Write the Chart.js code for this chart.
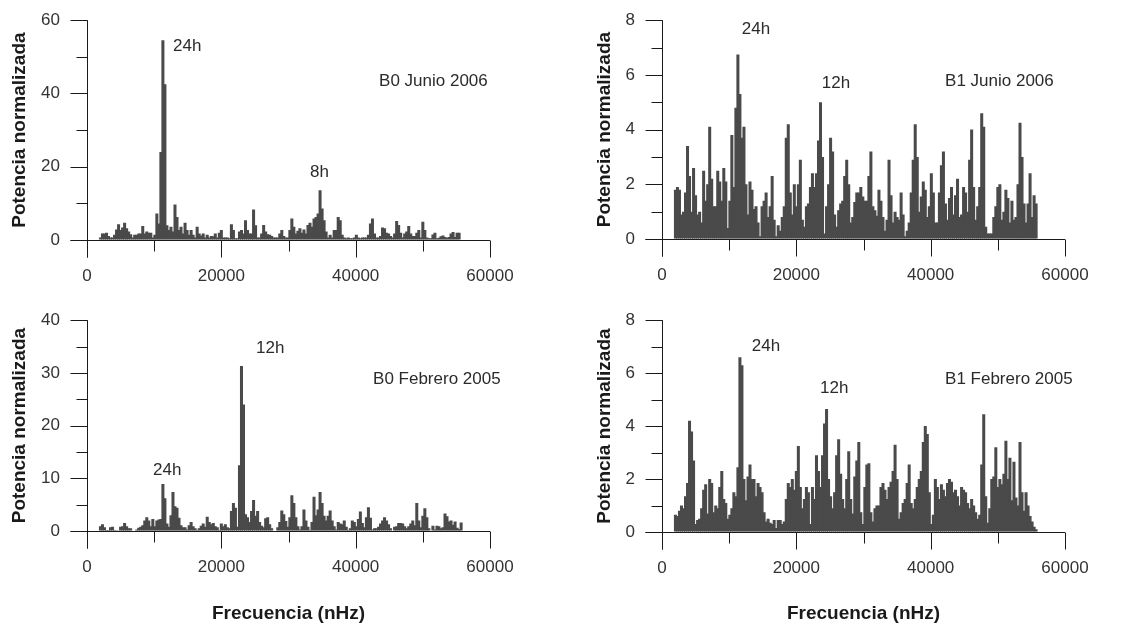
<!DOCTYPE html>
<html>
<head>
<meta charset="utf-8">
<script src="https://cdn.jsdelivr.net/npm/chart.js@4"></script>
<style>
  body { margin: 0; background: #fff; }
  #figura { position: relative; width: 1141px; height: 626px; }
  #figura canvas { position: absolute; }
</style>
</head>
<body>
<div id="figura">
  <canvas id="b0jun" width="570" height="300" style="left:0;top:0"></canvas>
  <canvas id="b1jun" width="571" height="300" style="left:570px;top:0"></canvas>
  <canvas id="b0feb" width="570" height="326" style="left:0;top:300px"></canvas>
  <canvas id="b1feb" width="571" height="326" style="left:570px;top:300px"></canvas>
</div>
<script>
// espectros de potencia, un valor cada 300 nHz desde 2000 nHz
const freqInicio = 2000, freqPaso = 300;

const potB0Jun2006 = [
  0.7, 1.8, 1.8, 2.0, 1.1, 0.7, 0.7, 1.4, 2.9, 4.3,
  2.7, 3.4, 4.7, 3.2, 2.3, 1.6, 0.7, 1.4, 1.4, 1.8,
  1.8, 3.8, 1.8, 2.3, 2.0, 2.0, 0.7, 1.4, 7.2, 4.5,
  24, 54.5, 42.5, 4.0, 2.7, 3.6, 2.3, 9.7, 6.3, 2.7,
  3.6, 1.8, 4.7, 2.7, 1.4, 2.7, 1.4, 0.7, 3.6, 1.8,
  1.2, 1.8, 0.7, 1.4, 0.7, 1.1, 1.0, 1.8, 0.7, 2.0,
  2.7, 0.7, 0.7, 0.7, 0.5, 4.3, 2.7, 0.5, 0.5, 2.3,
  2.7, 1.8, 5.4, 2.7, 1.8, 1.8, 8.3, 4.0, 0.7, 0.7,
  1.8, 4.1, 2.3, 1.6, 1.4, 1.1, 0.7, 0.7, 0.7, 1.8,
  2.7, 1.1, 0.7, 0.7, 2.7, 5.9, 3.6, 1.8, 2.5, 3.2,
  2.0, 2.9, 1.8, 4.1, 4.7, 3.6, 5.9, 6.3, 7.2, 13.6,
  8.6, 5.4, 2.3, 0.7, 1.4, 0.7, 2.7, 2.7, 6.3, 5.4,
  1.4, 0.7, 0.5, 0.7, 0.5, 0.5, 0.7, 1.4, 0.7, 0.5,
  0.7, 0.7, 0.7, 1.4, 4.5, 5.9, 1.8, 0.7, 0.7, 1.1,
  3.4, 3.2, 2.0, 1.8, 1.1, 0.7, 1.8, 5.2, 4.1, 2.0,
  0.7, 1.8, 2.3, 3.8, 1.8, 1.1, 1.1, 2.0, 2.7, 0.7,
  5.0, 2.7, 0.7, 0.5, 0.5, 1.5, 2.0, 0.5, 0.6, 1.0,
  1.2, 0.8, 0.6, 0.8, 1.8, 2.2, 0.8, 2.0, 2.0, 0
];

const potB1Jun2006 = [
  1.8, 1.9, 1.8, 0.9, 1.0, 1.7, 3.4, 2.3, 1.0, 2.6,
  1.6, 0.9, 1.0, 0.6, 2.5, 1.4, 2.0, 4.1, 2.2, 1.2,
  1.2, 2.5, 2.1, 1.4, 2.6, 2.1, 0.4, 1.4, 3.8, 1.9,
  4.8, 6.75, 5.3, 3.7, 4.1, 2.0, 0.9, 2.1, 1.8, 1.1,
  1.2, 0.6, 0.1, 1.2, 1.4, 1.7, 0.8, 1.2, 2.3, 0.7,
  0.1, 0.5, 0.3, 0.8, 1.2, 3.7, 4.2, 1.7, 0.9, 2.0,
  1.2, 2.0, 2.9, 0.7, 0.45, 1.2, 1.3, 1.9, 2.4, 1.9,
  2.4, 3.6, 5.0, 3.0, 0.2, 1.2, 2.0, 3.7, 3.2, 0.9,
  0.45, 1.05, 1.3, 1.4, 2.3, 2.9, 2.0, 0.6, 0.8, 1.35,
  1.7, 1.7, 1.9, 1.55, 1.4, 1.4, 2.3, 3.2, 1.2, 1.05,
  0.85, 1.8, 1.4, 0.8, 0.3, 0.7, 2.9, 1.6, 0.6, 1.0,
  0.8, 0.7, 1.7, 0.9, 0.1, 0.3, 0.6, 1.7, 2.9, 4.2,
  3.0, 1.0, 1.55, 2.1, 1.8, 0.8, 1.2, 2.4, 1.7, 0.6,
  0.6, 1.7, 2.7, 3.2, 1.3, 0.7, 1.5, 1.9, 0.9, 1.6,
  2.2, 0.8, 0.9, 1.9, 1.7, 1.0, 2.9, 4.0, 1.9, 0.7,
  1.2, 1.9, 4.6, 4.1, 0.45, 0.2, 0.2, 0.2, 0.8, 1.2,
  1.9, 2.0, 0.7, 1.0, 1.8, 1.5, 0.6, 1.4, 0.7, 0.8,
  2.0, 4.25, 3.0, 1.3, 0.6, 1.3, 2.4, 0.8, 1.6, 1.3
];

const potB0Feb2005 = [
  0.9, 1.3, 0.7, 0.2, 0.2, 0.7, 0.8, 0.2, 0.05, 0.05,
  0.8, 0.9, 1.5, 0.9, 0.5, 0.5, 0, 0, 0.3, 0.6,
  0.8, 1.1, 2.0, 2.6, 2.0, 0.9, 2.3, 0.9, 2.0, 2.2,
  2.3, 8.9, 6.2, 1.4, 0.8, 3.0, 7.4, 4.7, 4.4, 2.5,
  1.1, 0.7, 0.7, 0.3, 1.1, 1.7, 0.9, 0.5, 0.2, 0.5,
  1.0, 1.4, 0.8, 2.7, 1.7, 1.3, 1.5, 0.9, 0.7, 0.2,
  1.4, 0.9, 1.3, 0.7, 0.5, 3.8, 5.3, 4.4, 0.8, 12.5,
  31.3, 24, 3.2, 2.6, 1.7, 3.8, 5.9, 2.9, 3.8, 1.7,
  1.0, 0.7, 2.4, 2.6, 1.3, 0.5, 0, 0.1, 0.7, 1.7,
  3.9, 3.2, 1.9, 0.8, 2.6, 6.8, 5.3, 2.6, 0.9, 0.3,
  0.9, 4.1, 2.0, 0.8, 0.2, 1.7, 6.5, 3.0, 4.1, 7.4,
  5.3, 2.9, 2.0, 2.9, 3.9, 2.0, 0.9, 0.3, 1.7, 1.4,
  1.3, 2.0, 0.8, 0.2, 0.5, 2.0, 1.7, 0.9, 2.3, 3.7,
  1.5, 0.7, 2.6, 4.5, 2.5, 0.3, 0.5, 0.5, 0.8, 1.4,
  2.0, 2.6, 2.0, 1.3, 0.5, 0, 0.8, 0.9, 1.5, 1.5,
  1.4, 0.9, 0.5, 0.9, 1.4, 2.0, 1.1, 5.3, 2.0, 0.7,
  2.9, 4.3, 2.6, 0.5, 0, 1.0, 0.3, 1.0, 0.9, 0.5,
  0.7, 3.3, 2.8, 1.8, 2.0, 1.2, 1.8, 0.6, 0.4, 1.6
];

const potB1Feb2005 = [
  0.65, 0.6, 0.8, 1.0, 0.9, 1.35, 1.85, 4.2, 3.8, 2.7,
  0.3, 0.45, 0.5, 0.9, 1.6, 1.8, 0.7, 2.0, 1.85, 0.75,
  1.0, 0.9, 1.7, 2.3, 1.25, 1.1, 0.5, 0.65, 0.9, 1.5,
  1.35, 2.45, 6.6, 6.3, 2.0, 1.2, 2.1, 2.55, 2.0, 2.0,
  1.35, 1.85, 1.7, 1.5, 0.75, 0.4, 0.5, 0.35, 0.3, 0.45,
  0.15, 0.45, 0.45, 0.3, 0.4, 1.25, 1.85, 1.7, 2.0, 1.6,
  2.3, 3.25, 1.7, 0.9, 1.25, 1.7, 1.5, 0.3, 1.7, 1.25,
  2.9, 2.3, 1.7, 2.9, 4.1, 4.65, 2.0, 1.35, 0.9, 1.5,
  2.9, 3.5, 2.2, 1.25, 0.9, 2.0, 3.05, 1.25, 0.7, 2.1,
  2.7, 3.4, 0.75, 0.3, 1.7, 2.55, 2.6, 0.75, 0.4, 0.9,
  1.0, 1.0, 1.7, 1.85, 1.6, 1.25, 1.7, 1.9, 2.3, 3.3,
  2.0, 0.5, 0.75, 1.1, 1.25, 1.85, 2.55, 1.1, 0.9, 1.25,
  1.7, 2.0, 2.3, 3.4, 4.0, 3.7, 1.5, 0.3, 0.65, 2.0,
  1.7, 1.25, 1.8, 1.6, 1.35, 1.85, 2.0, 1.9, 1.5, 1.6,
  1.35, 1.0, 1.7, 1.6, 1.5, 1.1, 0.9, 1.25, 1.0, 0.75,
  0.5, 0.65, 2.55, 4.45, 1.35, 0.35, 0.9, 2.0, 2.1, 3.2,
  1.7, 2.0, 1.8, 2.2, 3.45, 2.0, 2.8, 1.2, 2.65, 1.3,
  1.0, 3.4, 1.5, 0.8, 1.5, 1.0, 0.6, 0.4, 0.2, 0.1
];

const frecuencias = potB0Jun2006.map((_, i) => freqInicio + i * freqPaso);

// marcas con etiqueta
const ticksX = [0, 20000, 40000, 60000];
const ticksB0Jun = [0, 20, 40, 60];
const ticksB0Feb = [0, 10, 20, 30, 40];
const ticksB1 = [0, 2, 4, 6, 8];

const FUENTE = "'Liberation Sans', Arial, sans-serif";
const TICK = 17, TICK_MENOR = 11;

// ejes cruzados con marcas hacia fuera, menores más cortas
const ejes = {
  id: 'ejes',
  afterDraw(chart) {
    const {ctx, scales: {x, y}} = chart;
    const x0 = Math.round(x.getPixelForValue(0)) + 0.5;
    const y0 = Math.round(y.getPixelForValue(0)) + 0.5;
    ctx.save();
    ctx.strokeStyle = '#1a1a1a';
    ctx.lineWidth = 1;
    ctx.beginPath();
    ctx.moveTo(x0 - TICK, y0);
    ctx.lineTo(x.right, y0);
    ctx.moveTo(x0, y.top);
    ctx.lineTo(x0, y0 + TICK);
    x.ticks.forEach(t => {
      const px = Math.round(x.getPixelForValue(t.value)) + 0.5;
      ctx.moveTo(px, y0);
      ctx.lineTo(px, y0 + (t.label ? TICK : TICK_MENOR));
    });
    y.ticks.forEach(t => {
      const py = Math.round(y.getPixelForValue(t.value)) + 0.5;
      ctx.moveTo(x0 - (t.label ? TICK : TICK_MENOR), py);
      ctx.lineTo(x0, py);
    });
    ctx.stroke();
    ctx.restore();
  }
};

// textos sobre el gráfico: [texto, frecuencia del borde izquierdo, valor]
function notas(items) {
  return {
    id: 'notas',
    afterDraw(chart) {
      const {ctx, scales: {x, y}} = chart;
      ctx.save();
      ctx.font = `17px ${FUENTE}`;
      ctx.fillStyle = '#2b2b2b';
      ctx.textAlign = 'left';
      ctx.textBaseline = 'middle';
      items.forEach(([texto, f, v]) => ctx.fillText(texto, x.getPixelForValue(f), y.getPixelForValue(v)));
      ctx.restore();
    }
  };
}

function panel(canvasId, serie, cfg) {
  new Chart(document.getElementById(canvasId), {
    type: 'bar',
    data: {
      datasets: [{
        data: frecuencias.map((f, i) => ({x: f, y: serie[i]})),
        backgroundColor: '#4a4a4a',
        borderWidth: 0,
        // se solapan un píxel para que el relleno quede macizo
        barPercentage: 1.5,
        categoryPercentage: 1
      }]
    },
    options: {
      responsive: false,
      animation: false,
      devicePixelRatio: 1,
      events: [],
      layout: {padding: {top: cfg.arriba, right: cfg.derecha, left: 0, bottom: 0}},
      plugins: {legend: {display: false}, tooltip: {enabled: false}},
      scales: {
        x: {
          type: 'linear', min: 0, max: 60000, offset: false,
          grid: {display: true, drawOnChartArea: false, offset: false, tickLength: TICK, tickColor: 'rgba(0,0,0,0)'},
          border: {display: false},
          ticks: {
            stepSize: 10000, autoSkip: false, maxRotation: 0, padding: 9,
            color: '#333', font: {family: FUENTE, size: 17},
            callback: v => ticksX.includes(v) ? String(v) : ''
          },
          title: {
            display: cfg.tituloX, text: 'Frecuencia (nHz)', color: '#1a1a1a',
            font: {family: FUENTE, size: 19, weight: 'bold'}, padding: {top: 0, bottom: 1}
          },
          afterFit: s => { s.height = cfg.altoX; }
        },
        y: {
          min: 0, max: cfg.maxY,
          grid: {display: true, drawOnChartArea: false, tickLength: TICK, tickColor: 'rgba(0,0,0,0)'},
          border: {display: false},
          ticks: {
            stepSize: cfg.pasoY, autoSkip: false, padding: 10,
            color: '#333', font: {family: FUENTE, size: 17},
            callback: v => cfg.ticksY.includes(v) ? String(v) : ''
          },
          title: {
            display: true, text: 'Potencia normalizada', color: '#1a1a1a',
            font: {family: FUENTE, size: 19, weight: 'bold'}, padding: {top: cfg.tituloY, bottom: 0}
          },
          afterFit: s => { s.width = cfg.anchoY; }
        }
      }
    },
    plugins: [ejes, notas(cfg.notas)]
  });
}

panel('b0jun', potB0Jun2006, {
  maxY: 60, pasoY: 10, ticksY: ticksB0Jun, arriba: 19, derecha: 80, anchoY: 87, altoX: 60,
  tituloX: false, tituloY: 8,
  notas: [['24h', 12800, 53], ['8h', 33200, 18.5], ['B0 Junio 2006', 43480, 43.4]]
});

panel('b1jun', potB1Jun2006, {
  maxY: 8, pasoY: 1, ticksY: ticksB1, arriba: 19, derecha: 76, anchoY: 92, altoX: 61,
  tituloX: false, tituloY: 23.6,
  notas: [['24h', 11870, 7.67], ['12h', 23780, 5.71], ['B1 Junio 2006', 42140, 5.75]]
});

panel('b0feb', potB0Feb2005, {
  maxY: 40, pasoY: 5, ticksY: ticksB0Feb, arriba: 10, derecha: 80, anchoY: 87, altoX: 95,
  tituloX: true, tituloY: 8,
  notas: [['24h', 9830, 11.6], ['12h', 25160, 34.75], ['B0 Febrero 2005', 42590, 28.8]]
});

panel('b1feb', potB1Feb2005, {
  maxY: 8, pasoY: 1, ticksY: ticksB1, arriba: 10, derecha: 76, anchoY: 92, altoX: 94,
  tituloX: true, tituloY: 23.6,
  notas: [['24h', 13360, 7.03], ['12h', 23530, 5.44], ['B1 Febrero 2005', 42140, 5.77]]
});
</script>
</body>
</html>
